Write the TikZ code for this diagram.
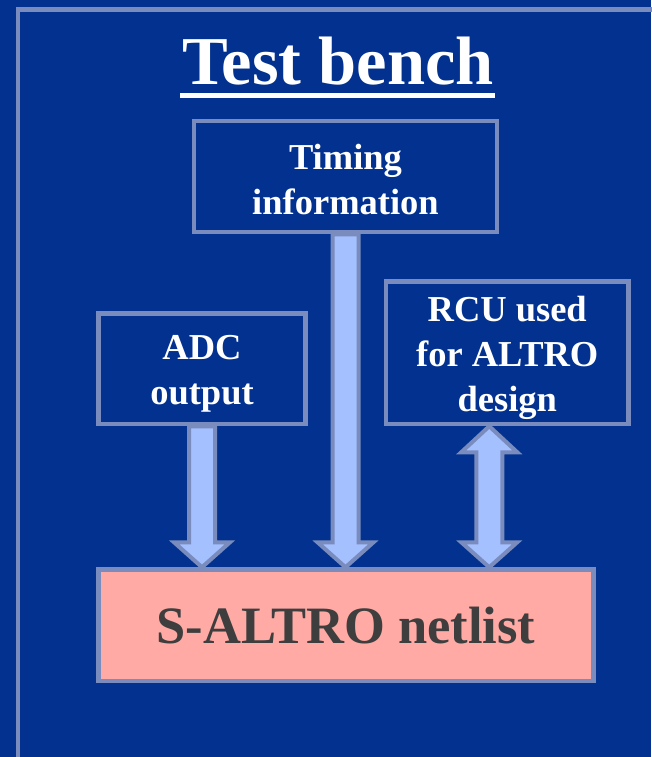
\documentclass[tikz,border=0pt]{standalone}
\usepackage{fontspec}
\setmainfont{Liberation Serif}
\usetikzlibrary{calc}

\definecolor{slidebg}{HTML}{03318F}
\definecolor{edgeblue}{HTML}{798CBD}
\definecolor{arrowfill}{HTML}{A4C0FF}
\definecolor{netfill}{HTML}{FFAAA5}
\definecolor{nettext}{HTML}{3E3E3E}

\tikzset{
  boxnode/.style={draw=edgeblue, line width=4.5pt, fill=slidebg, inner sep=0pt},
  boxtext/.style={align=center, text=white, inner sep=0pt,
    font=\bfseries\fontsize{36.5}{45}\selectfont},
  netnode/.style={boxnode, fill=netfill, text=nettext, align=center,
    font=\bfseries\fontsize{52.5}{60}\selectfont},
  titletext/.style={text=white, inner sep=0pt,
    font=\bfseries\fontsize{68.5}{80}\selectfont},
  fatarrow/.style={draw=edgeblue, line width=4pt, fill=arrowfill, line join=miter},
}

% block arrow pointing down from #1 to the level of #2
\newcommand\downblockarrow[2]{%
  \draw[fatarrow] let \p1=(#1), \p2=(#2) in
    (\x1-13pt,\y1) -- (\x1-13pt,\y2+25pt) -- (\x1-28pt,\y2+25pt) --
    (\x1,\y2) -- (\x1+28pt,\y2+25pt) -- (\x1+13pt,\y2+25pt) --
    (\x1+13pt,\y1) -- cycle;}
% block arrow with heads at both ends, from #1 down to the level of #2
\newcommand\twowayblockarrow[2]{%
  \draw[fatarrow] let \p1=(#1), \p2=(#2) in
    (\x1,\y1) -- (\x1-28pt,\y1-26pt) -- (\x1-13pt,\y1-26pt) --
    (\x1-13pt,\y2+25pt) -- (\x1-28pt,\y2+25pt) -- (\x1,\y2) --
    (\x1+28pt,\y2+25pt) -- (\x1+13pt,\y2+25pt) -- (\x1+13pt,\y1-26pt) --
    (\x1+28pt,\y1-26pt) -- cycle;}

\begin{document}
\begin{tikzpicture}[x=1pt,y=-1pt]
  \fill[slidebg] (0,0) rectangle (651,757);
  \useasboundingbox (0,0) rectangle (651,757);

  % outer frame
  \draw[edgeblue, line width=4.5pt] (18,760) -- (18,9.5) -- (655,9.5);

  % title
  \node[titletext, anchor=base] (title) at (338,85) {Test bench};
  \draw[white, line width=5pt]
    ([xshift=-2pt,yshift=-11pt]title.base west) -- ([xshift=1pt,yshift=-11pt]title.base east);

  % boxes
  \node[boxnode, minimum width=303pt, minimum height=111pt] (timing) at (345.5,176.5) {};
  \node[boxnode, minimum width=207pt, minimum height=110.5pt] (adc) at (202,368.75) {};
  \node[boxnode, minimum width=242.5pt, minimum height=142.5pt] (rcu) at (507.25,352.75) {};
  \node[netnode, minimum width=495pt, minimum height=111.5pt] (net) at (346,625.25)
    {S-ALTRO netlist};

  % box captions
  \node[boxtext] (timinglabel) at ([yshift=-3pt]timing.center) {Timing\\information};
  \node[boxtext] (adclabel) at ([yshift=-5pt]adc.center) {ADC\\output};
  \node[boxtext] (rculabel) at ([yshift=-5pt]rcu.center) {RCU used\\for ALTRO\\design};

  % connectors
  \downblockarrow{adc.south}{net.north}
  \downblockarrow{timing.south}{net.north}
  \twowayblockarrow{[xshift=-18pt]rcu.south}{net.north}
\end{tikzpicture}
\end{document}
